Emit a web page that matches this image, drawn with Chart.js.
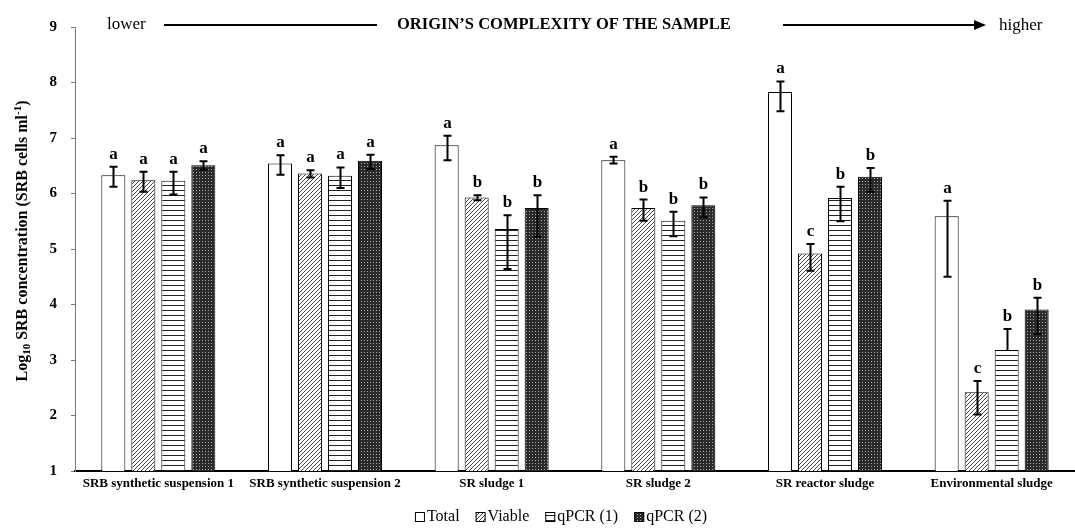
<!DOCTYPE html>
<html>
<head>
<meta charset="utf-8">
<script src="https://cdn.jsdelivr.net/npm/chart.js@4.4.1/dist/chart.umd.min.js"></script>
<style>
  html, body { margin: 0; padding: 0; background: #fff; }
  #wrap { width: 1075px; height: 530px; }
</style>
</head>
<body>
<div id="wrap"><canvas id="chart"></canvas></div>
<script>
const categories = ['SRB synthetic suspension 1', 'SRB synthetic suspension 2', 'SR sludge 1',
  'SR sludge 2', 'SR reactor sludge', 'Environmental sludge'];
const seriesNames = ['Total', 'Viable', 'qPCR (1)', 'qPCR (2)'];

const totalValues = [6.33, 6.54, 6.87, 6.60, 7.83, 5.59];
const viableValues = [6.24, 6.36, 5.93, 5.74, 4.92, 2.42];
const qpcr1Values = [6.23, 6.32, 5.36, 5.51, 5.92, 3.18];
const qpcr2Values = [6.51, 6.59, 5.74, 5.79, 6.30, 3.91];

const totalErrUp = [0.15, 0.15, 0.17, 0.06, 0.19, 0.28];
const totalErrDown = [0.21, 0.20, 0.27, 0.06, 0.35, 1.09];
const viableErrUp = [0.15, 0.06, 0.04, 0.15, 0.17, 0.20];
const viableErrDown = [0.21, 0.07, 0.05, 0.23, 0.31, 0.40];
const qpcr1ErrUp = [0.16, 0.15, 0.25, 0.16, 0.20, 0.38];
const qpcr1ErrDown = [0.25, 0.22, 0.72, 0.28, 0.42, 0];
const qpcr2ErrUp = [0.07, 0.11, 0.23, 0.14, 0.16, 0.21];
const qpcr2ErrDown = [0.08, 0.15, 0.52, 0.22, 0.27, 0.44];

const totalLetters = ['a', 'a', 'a', 'a', 'a', 'a'];
const viableLetters = ['a', 'a', 'b', 'b', 'c', 'c'];
const qpcr1Letters = ['a', 'a', 'b', 'b', 'b', 'b'];
const qpcr2Letters = ['a', 'a', 'b', 'b', 'b', 'b'];

const yTicks = [1, 2, 3, 4, 5, 6, 7, 8, 9];

const SERIF = "'Liberation Serif', 'Times New Roman', serif";

function makePattern(size, draw) {
  const c = document.createElement('canvas');
  c.width = size; c.height = size;
  const g = c.getContext('2d');
  draw(g, size);
  return g.createPattern(c, 'repeat');
}

const diagPattern = makePattern(4, (g, s) => {
  g.fillStyle = '#fff';
  g.fillRect(0, 0, s, s);
  g.strokeStyle = '#444';
  g.lineWidth = 1;
  g.beginPath();
  g.moveTo(-1, s + 1); g.lineTo(s + 1, -1);
  g.moveTo(-1, 1); g.lineTo(1, -1);
  g.moveTo(s - 1, s + 1); g.lineTo(s + 1, s - 1);
  g.stroke();
});

const hLinePattern = makePattern(5, (g, s) => {
  g.fillStyle = '#fff';
  g.fillRect(0, 0, s, s);
  g.fillStyle = '#222';
  g.fillRect(0, 0, s, 1);
});

const dotPattern = makePattern(3, (g, s) => {
  g.fillStyle = '#2a2a2a';
  g.fillRect(0, 0, s, s);
  g.fillStyle = '#aaa';
  g.fillRect(1, 1, 1, 1);
});

const errUps = [totalErrUp, viableErrUp, qpcr1ErrUp, qpcr2ErrUp];
const errDowns = [totalErrDown, viableErrDown, qpcr1ErrDown, qpcr2ErrDown];
const letterSets = [totalLetters, viableLetters, qpcr1Letters, qpcr2Letters];

const errorBarPlugin = {
  id: 'errorBars',
  afterDatasetsDraw(chart) {
    const { ctx, scales: { y } } = chart;
    ctx.save();
    chart.data.datasets.forEach((ds, di) => {
      const meta = chart.getDatasetMeta(di);
      meta.data.forEach((bar, i) => {
        const v = ds.data[i];
        const yTop = y.getPixelForValue(v + errUps[di][i]);
        const yBot = y.getPixelForValue(v - errDowns[di][i]);
        const x = Math.round(bar.x) + 0.5;
        ctx.strokeStyle = '#000';
        ctx.lineWidth = 2;
        ctx.beginPath();
        ctx.moveTo(x, yTop); ctx.lineTo(x, yBot);
        ctx.moveTo(x - 4, yTop); ctx.lineTo(x + 4, yTop);
        if (errDowns[di][i] > 0) {
          ctx.moveTo(x - 4, yBot); ctx.lineTo(x + 4, yBot);
        }
        ctx.stroke();
        ctx.fillStyle = '#000';
        ctx.font = 'bold 17px ' + SERIF;
        ctx.textAlign = 'center';
        ctx.textBaseline = 'alphabetic';
        ctx.fillText(letterSets[di][i], x, yTop - 8);
      });
    });
    ctx.restore();
  }
};

const decorPlugin = {
  id: 'decor',
  afterDraw(chart) {
    const { ctx } = chart;
    ctx.save();
    ctx.fillStyle = '#000';
    ctx.strokeStyle = '#000';
    // header row
    const hy = 25;
    ctx.textBaseline = 'middle';
    ctx.textAlign = 'left';
    ctx.font = '17px ' + SERIF;
    ctx.fillText('lower', 107, hy);
    ctx.fillText('higher', 999, hy + 1);
    ctx.lineWidth = 2;
    ctx.beginPath();
    ctx.moveTo(164, hy); ctx.lineTo(377, hy);
    ctx.moveTo(783, hy); ctx.lineTo(976, hy);
    ctx.stroke();
    ctx.beginPath();
    ctx.moveTo(986, hy); ctx.lineTo(974, hy - 5); ctx.lineTo(974, hy + 5);
    ctx.closePath(); ctx.fill();
    ctx.font = 'bold 16.5px ' + SERIF;
    ctx.fillText('ORIGIN\u2019S COMPLEXITY OF THE SAMPLE', 397, hy);

    // legend: pattern box + name
    ctx.font = '16px ' + SERIF;
    const box = 10, gap = 2, itemGap = 16, ly = 517;
    const items = chart.data.datasets.map(ds => ({ ds, w: box + gap + ctx.measureText(ds.label).width }));
    const legendW = items.reduce((s, it) => s + it.w, 0) + itemGap * (items.length - 1);
    let lx = 561 - legendW / 2;
    items.forEach(it => {
      ctx.fillStyle = it.ds.backgroundColor;
      ctx.fillRect(lx, ly - 5, box, box);
      ctx.lineWidth = 1;
      ctx.strokeStyle = '#000';
      ctx.strokeRect(lx + 0.5, ly - 4.5, box - 1, box - 1);
      ctx.fillStyle = '#000';
      ctx.fillText(it.ds.label, lx + box + gap, ly);
      lx += it.w + itemGap;
    });

    // y-axis title with sub/superscript
    ctx.translate(21, 241);
    ctx.rotate(-Math.PI / 2);
    const parts = [
      { t: 'Log', f: 'bold 16px ' + SERIF, dy: 0 },
      { t: '10', f: 'bold 11px ' + SERIF, dy: 3 },
      { t: ' SRB concentration (SRB cells ml', f: 'bold 16px ' + SERIF, dy: 0 },
      { t: '-1', f: 'bold 11px ' + SERIF, dy: -6 },
      { t: ')', f: 'bold 16px ' + SERIF, dy: 0 }
    ];
    let total = 0;
    parts.forEach(p => { ctx.font = p.f; p.w = ctx.measureText(p.t).width; total += p.w; });
    let x = -total / 2;
    ctx.textBaseline = 'alphabetic';
    parts.forEach(p => { ctx.font = p.f; ctx.fillText(p.t, x, 6 + p.dy); x += p.w; });
    ctx.restore();
  }
};

new Chart(document.getElementById('chart'), {
  type: 'bar',
  data: {
    labels: categories,
    datasets: [
      { label: seriesNames[0], data: totalValues, backgroundColor: '#fff' },
      { label: seriesNames[1], data: viableValues, backgroundColor: diagPattern },
      { label: seriesNames[2], data: qpcr1Values, backgroundColor: hLinePattern },
      { label: seriesNames[3], data: qpcr2Values, backgroundColor: dotPattern }
    ].map(ds => Object.assign(ds, {
      borderColor: '#000',
      borderWidth: 1,
      borderSkipped: 'bottom',
      categoryPercentage: 0.72,
      barPercentage: 0.8
    }))
  },
  options: {
    responsive: true,
    maintainAspectRatio: false,
    animation: false,
    layout: { padding: { top: 27, right: 0, left: 0, bottom: 0 } },
    plugins: {
      legend: { display: false },
      tooltip: { enabled: false }
    },
    scales: {
      x: {
        grid: { display: false, drawTicks: false, tickLength: 0 },
        border: { display: true, color: '#000', width: 2 },
        ticks: { color: '#000', padding: 5, font: { family: SERIF, size: 13, weight: 'bold' } },
        afterFit: (s) => { s.height = 59; }
      },
      y: {
        min: 1,
        max: 9,
        afterBuildTicks: (s) => { s.ticks = yTicks.map(v => ({ value: v })); },
        grid: { drawOnChartArea: false, tickLength: 4, color: '#777' },
        border: { display: true, color: '#777', width: 1 },
        ticks: { color: '#000', padding: 14, font: { family: SERIF, size: 15, weight: 'bold' } },
        afterFit: (s) => { s.width = 75; }
      }
    }
  },
  plugins: [errorBarPlugin, decorPlugin]
});
</script>
</body>
</html>
